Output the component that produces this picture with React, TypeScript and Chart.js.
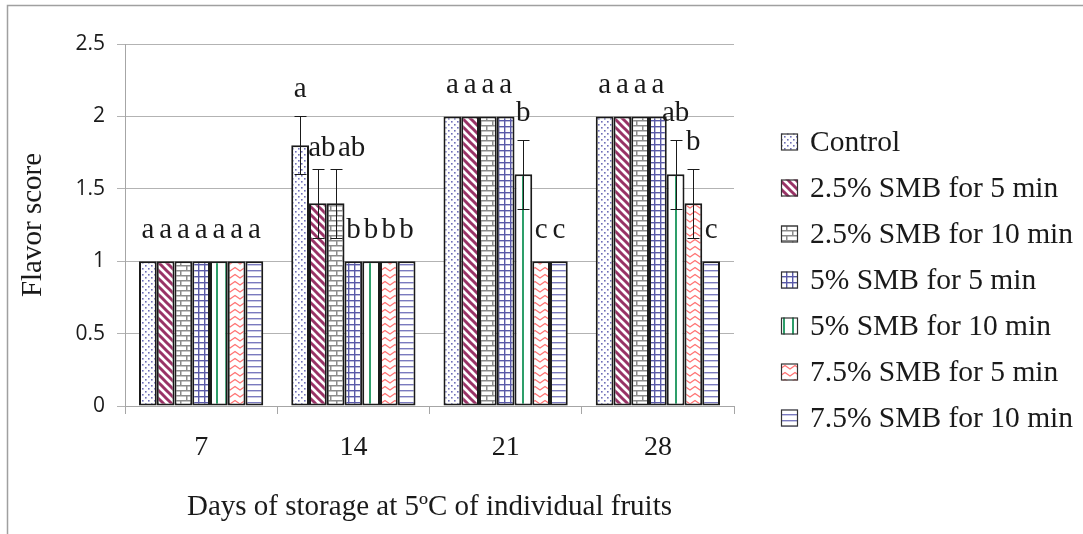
import React, { useEffect, useRef } from "react";
import { Chart, registerables } from "chart.js";

Chart.register(...registerables);

// ---------- data ----------
const categories = ["7", "14", "21", "28"];
const seriesNames = [
  "Control",
  "2.5% SMB for 5 min",
  "2.5% SMB for 10 min",
  "5% SMB for 5 min",
  "5% SMB for 10 min",
  "7.5% SMB for 5 min",
  "7.5% SMB for 10 min",
];
const control = [1, 1.8, 2, 2];
const smb25_5 = [1, 1.4, 2, 2];
const smb25_10 = [1, 1.4, 2, 2];
const smb5_5 = [1, 1, 2, 2];
const smb5_10 = [1, 1, 1.6, 1.6];
const smb75_5 = [1, 1, 1, 1.4];
const smb75_10 = [1, 1, 1, 1];

const errControl = [0, 0.2, 0, 0];
const err25_5 = [0, 0.24, 0, 0];
const err25_10 = [0, 0.24, 0, 0];
const err5_5 = [0, 0, 0, 0];
const err5_10 = [0, 0, 0.24, 0.24];
const err75_5 = [0, 0, 0, 0.24];
const err75_10 = [0, 0, 0, 0];

const lettersControl = ["a", "a", "a", "a"];
const letters25_5 = ["a", "ab", "a", "a"];
const letters25_10 = ["a", "ab", "a", "a"];
const letters5_5 = ["a", "b", "a", "a"];
const letters5_10 = ["a", "b", "b", "ab"];
const letters75_5 = ["a", "b", "c", "b"];
const letters75_10 = ["a", "b", "c", "c"];

const yTickLabels = ["0", "0.5", "1", "1.5", "2", "2.5"];

const yTitle = "Flavor score";
const xTitle = "Days of storage at 5ºC of individual fruits";

const values = [control, smb25_5, smb25_10, smb5_5, smb5_10, smb75_5, smb75_10];
const errors = [errControl, err25_5, err25_10, err5_5, err5_10, err75_5, err75_10];
const letters = [lettersControl, letters25_5, letters25_10, letters5_5, letters5_10, letters75_5, letters75_10];

// small manual nudges of letter labels (dataset-category) in px
const labelNudge: Record<string, [number, number]> = {
  "1-1": [4, 6],
  "2-1": [16, 6],
};

const SERIF = "'Liberation Serif', 'Times New Roman', serif";
const SANS = "'Open Sans', 'Liberation Sans', sans-serif";
const TEXT = "#1a1a1a";

type Drawer = (g: CanvasRenderingContext2D, w: number, h: number) => void;

function makePattern(ctx: CanvasRenderingContext2D, w: number, h: number, draw: Drawer) {
  const c = document.createElement("canvas");
  c.width = w;
  c.height = h;
  const g = c.getContext("2d")!;
  g.fillStyle = "#ffffff";
  g.fillRect(0, 0, w, h);
  draw(g, w, h);
  return ctx.createPattern(c, "repeat")!;
}

function buildPatterns(ctx: CanvasRenderingContext2D) {
  const dots = makePattern(ctx, 6, 6, (g) => {
    g.fillStyle = "#6f6fb8";
    g.fillRect(1, 1, 1.6, 1.6);
    g.fillRect(4, 4, 1.6, 1.6);
  });
  const diag = makePattern(ctx, 8, 8, (g) => {
    g.strokeStyle = "#993366";
    g.lineWidth = 3;
    for (let k = -1; k <= 1; k++) {
      g.beginPath();
      g.moveTo(k * 8 - 2, -2);
      g.lineTo(k * 8 + 10, 10);
      g.stroke();
    }
  });
  const brick = makePattern(ctx, 12, 10, (g) => {
    g.strokeStyle = "#8c8c8c";
    g.lineWidth = 1.5;
    g.beginPath();
    g.moveTo(0, 0.75); g.lineTo(12, 0.75);
    g.moveTo(0, 5.75); g.lineTo(12, 5.75);
    g.moveTo(0.75, 0); g.lineTo(0.75, 5.75);
    g.moveTo(6.75, 5.75); g.lineTo(6.75, 10);
    g.stroke();
  });
  const grid = makePattern(ctx, 6, 6, (g) => {
    g.fillStyle = "#5a5aa8";
    g.fillRect(0, 0, 1.4, 6);
    g.fillRect(0, 0, 6, 1.4);
  });
  const vlines = makePattern(ctx, 9, 4, (g) => {
    g.fillStyle = "#2e9e6a";
    g.fillRect(0, 0, 2, 4);
  });
  const zigzag = makePattern(ctx, 10, 7, (g) => {
    g.strokeStyle = "#ff7373";
    g.lineWidth = 1.4;
    g.beginPath();
    g.moveTo(-5, 1.5);
    g.lineTo(0, 5);
    g.lineTo(5, 1.5);
    g.lineTo(10, 5);
    g.lineTo(15, 1.5);
    g.stroke();
  });
  const hlines = makePattern(ctx, 6, 6, (g) => {
    g.fillStyle = "#7a7abf";
    g.fillRect(0, 0, 6, 1.4);
  });
  return [dots, diag, brick, grid, vlines, zigzag, hlines];
}

const framePlugin = {
  id: "frame",
  beforeDraw(chart: any) {
    const { ctx, width, height } = chart;
    ctx.save();
    ctx.fillStyle = "#ffffff";
    ctx.fillRect(0, 0, width, height);
    ctx.strokeStyle = "#a0a0a0";
    ctx.lineWidth = 1.5;
    ctx.beginPath();
    ctx.moveTo(7.5, height + 2);
    ctx.lineTo(7.5, 5.5);
    ctx.lineTo(width + 2, 5.5);
    ctx.stroke();
    ctx.restore();
  },
};

const errorBarPlugin = {
  id: "errorBars",
  afterDatasetsDraw(chart: any) {
    const { ctx } = chart;
    const yScale = chart.scales.y;
    ctx.save();
    ctx.strokeStyle = "#1a1a1a";
    ctx.lineWidth = 1;
    errors.forEach((errs, i) => {
      const meta = chart.getDatasetMeta(i);
      errs.forEach((e, j) => {
        if (!e) return;
        const bar = meta.data[j];
        const v = values[i][j];
        const x = Math.round(bar.x) + 0.5;
        const yT = Math.round(yScale.getPixelForValue(v + e)) + 0.5;
        const yB = Math.round(yScale.getPixelForValue(v - e)) + 0.5;
        ctx.beginPath();
        ctx.moveTo(x, yT);
        ctx.lineTo(x, yB);
        ctx.moveTo(x - 6, yT);
        ctx.lineTo(x + 6, yT);
        ctx.moveTo(x - 6, yB);
        ctx.lineTo(x + 6, yB);
        ctx.stroke();
      });
    });
    ctx.restore();
  },
};

const letterPlugin = {
  id: "letters",
  afterDatasetsDraw(chart: any) {
    const { ctx } = chart;
    const yScale = chart.scales.y;
    ctx.save();
    ctx.font = `29px ${SERIF}`;
    ctx.fillStyle = TEXT;
    ctx.textAlign = "center";
    ctx.textBaseline = "alphabetic";
    letters.forEach((ls, i) => {
      const meta = chart.getDatasetMeta(i);
      ls.forEach((t, j) => {
        const bar = meta.data[j];
        const e = errors[i][j];
        const v = values[i][j];
        const top = yScale.getPixelForValue(v + e);
        const gap = e ? 19 : 23;
        const n = labelNudge[`${i}-${j}`] || [0, 0];
        ctx.fillText(t, bar.x + n[0], top - gap + n[1]);
      });
    });
    ctx.restore();
  },
};

const legendPlugin = {
  id: "customLegend",
  afterDraw(chart: any) {
    const { ctx } = chart;
    ctx.save();
    ctx.font = `29.5px ${SERIF}`;
    ctx.textBaseline = "middle";
    ctx.textAlign = "left";
    chart.data.datasets.forEach((ds: any, i: number) => {
      const cy = 142 + i * 46;
      ctx.fillStyle = ds.backgroundColor;
      ctx.fillRect(781, cy - 8.5, 17, 17);
      ctx.strokeStyle = "#333333";
      ctx.lineWidth = 1.2;
      ctx.strokeRect(781.5, cy - 8, 16, 16);
      ctx.fillStyle = TEXT;
      ctx.fillText(ds.label, 810, cy + 1);
    });
    ctx.restore();
  },
};

export default function App() {
  const canvasRef = useRef<HTMLCanvasElement | null>(null);

  useEffect(() => {
    document.body.style.margin = "0";
    const canvas = canvasRef.current!;
    const ctx = canvas.getContext("2d")!;
    const patterns = buildPatterns(ctx);

    const chart = new Chart(canvas, {
      type: "bar",
      data: {
        labels: categories,
        datasets: seriesNames.map((name, i) => ({
          label: name,
          data: values[i],
          backgroundColor: patterns[i] as any,
          borderColor: "#1a1a1a",
          borderWidth: 2,
          borderSkipped: false,
          categoryPercentage: 0.816,
          barPercentage: 1.0,
        })),
      },
      options: {
        responsive: false,
        animation: false,
        events: [],
        layout: { padding: { left: 0, top: 44, right: 349, bottom: 0 } },
        plugins: {
          legend: { display: false },
          tooltip: { enabled: false },
        },
        scales: {
          x: {
            type: "category",
            grid: {
              offset: true,
              drawOnChartArea: false,
              drawTicks: true,
              tickLength: 8,
              color: "#a6a6a6",
            },
            border: { color: "#a6a6a6", width: 1 },
            ticks: {
              font: { family: SERIF, size: 28 },
              color: TEXT,
              padding: 17,
            },
            title: {
              display: true,
              text: xTitle,
              font: { family: SERIF, size: 29 },
              color: TEXT,
              padding: { top: 0, bottom: 9 },
            },
            afterFit: (s: any) => {
              s.height = 128;
            },
          },
          y: {
            min: 0,
            max: 2.5,
            grid: {
              color: "#b3b3b3",
              drawTicks: true,
              tickLength: 8,
            },
            border: { color: "#a6a6a6", width: 1 },
            ticks: {
              stepSize: 0.5,
              font: { family: SANS, size: 21 },
              color: TEXT,
              padding: 12,
              callback: (_v: any, idx: number) => yTickLabels[idx],
            },
            title: {
              display: true,
              text: yTitle,
              font: { family: SERIF, size: 29 },
              color: TEXT,
              padding: { top: 16, bottom: 0 },
            },
            afterFit: (s: any) => {
              s.width = 125;
            },
          },
        },
      },
      plugins: [framePlugin, errorBarPlugin, letterPlugin, legendPlugin],
    });

    return () => chart.destroy();
  }, []);

  return (
    <div style={{ width: 1083, height: 534 }}>
      <canvas ref={canvasRef} width={1083} height={534} style={{ display: "block" }} />
    </div>
  );
}
